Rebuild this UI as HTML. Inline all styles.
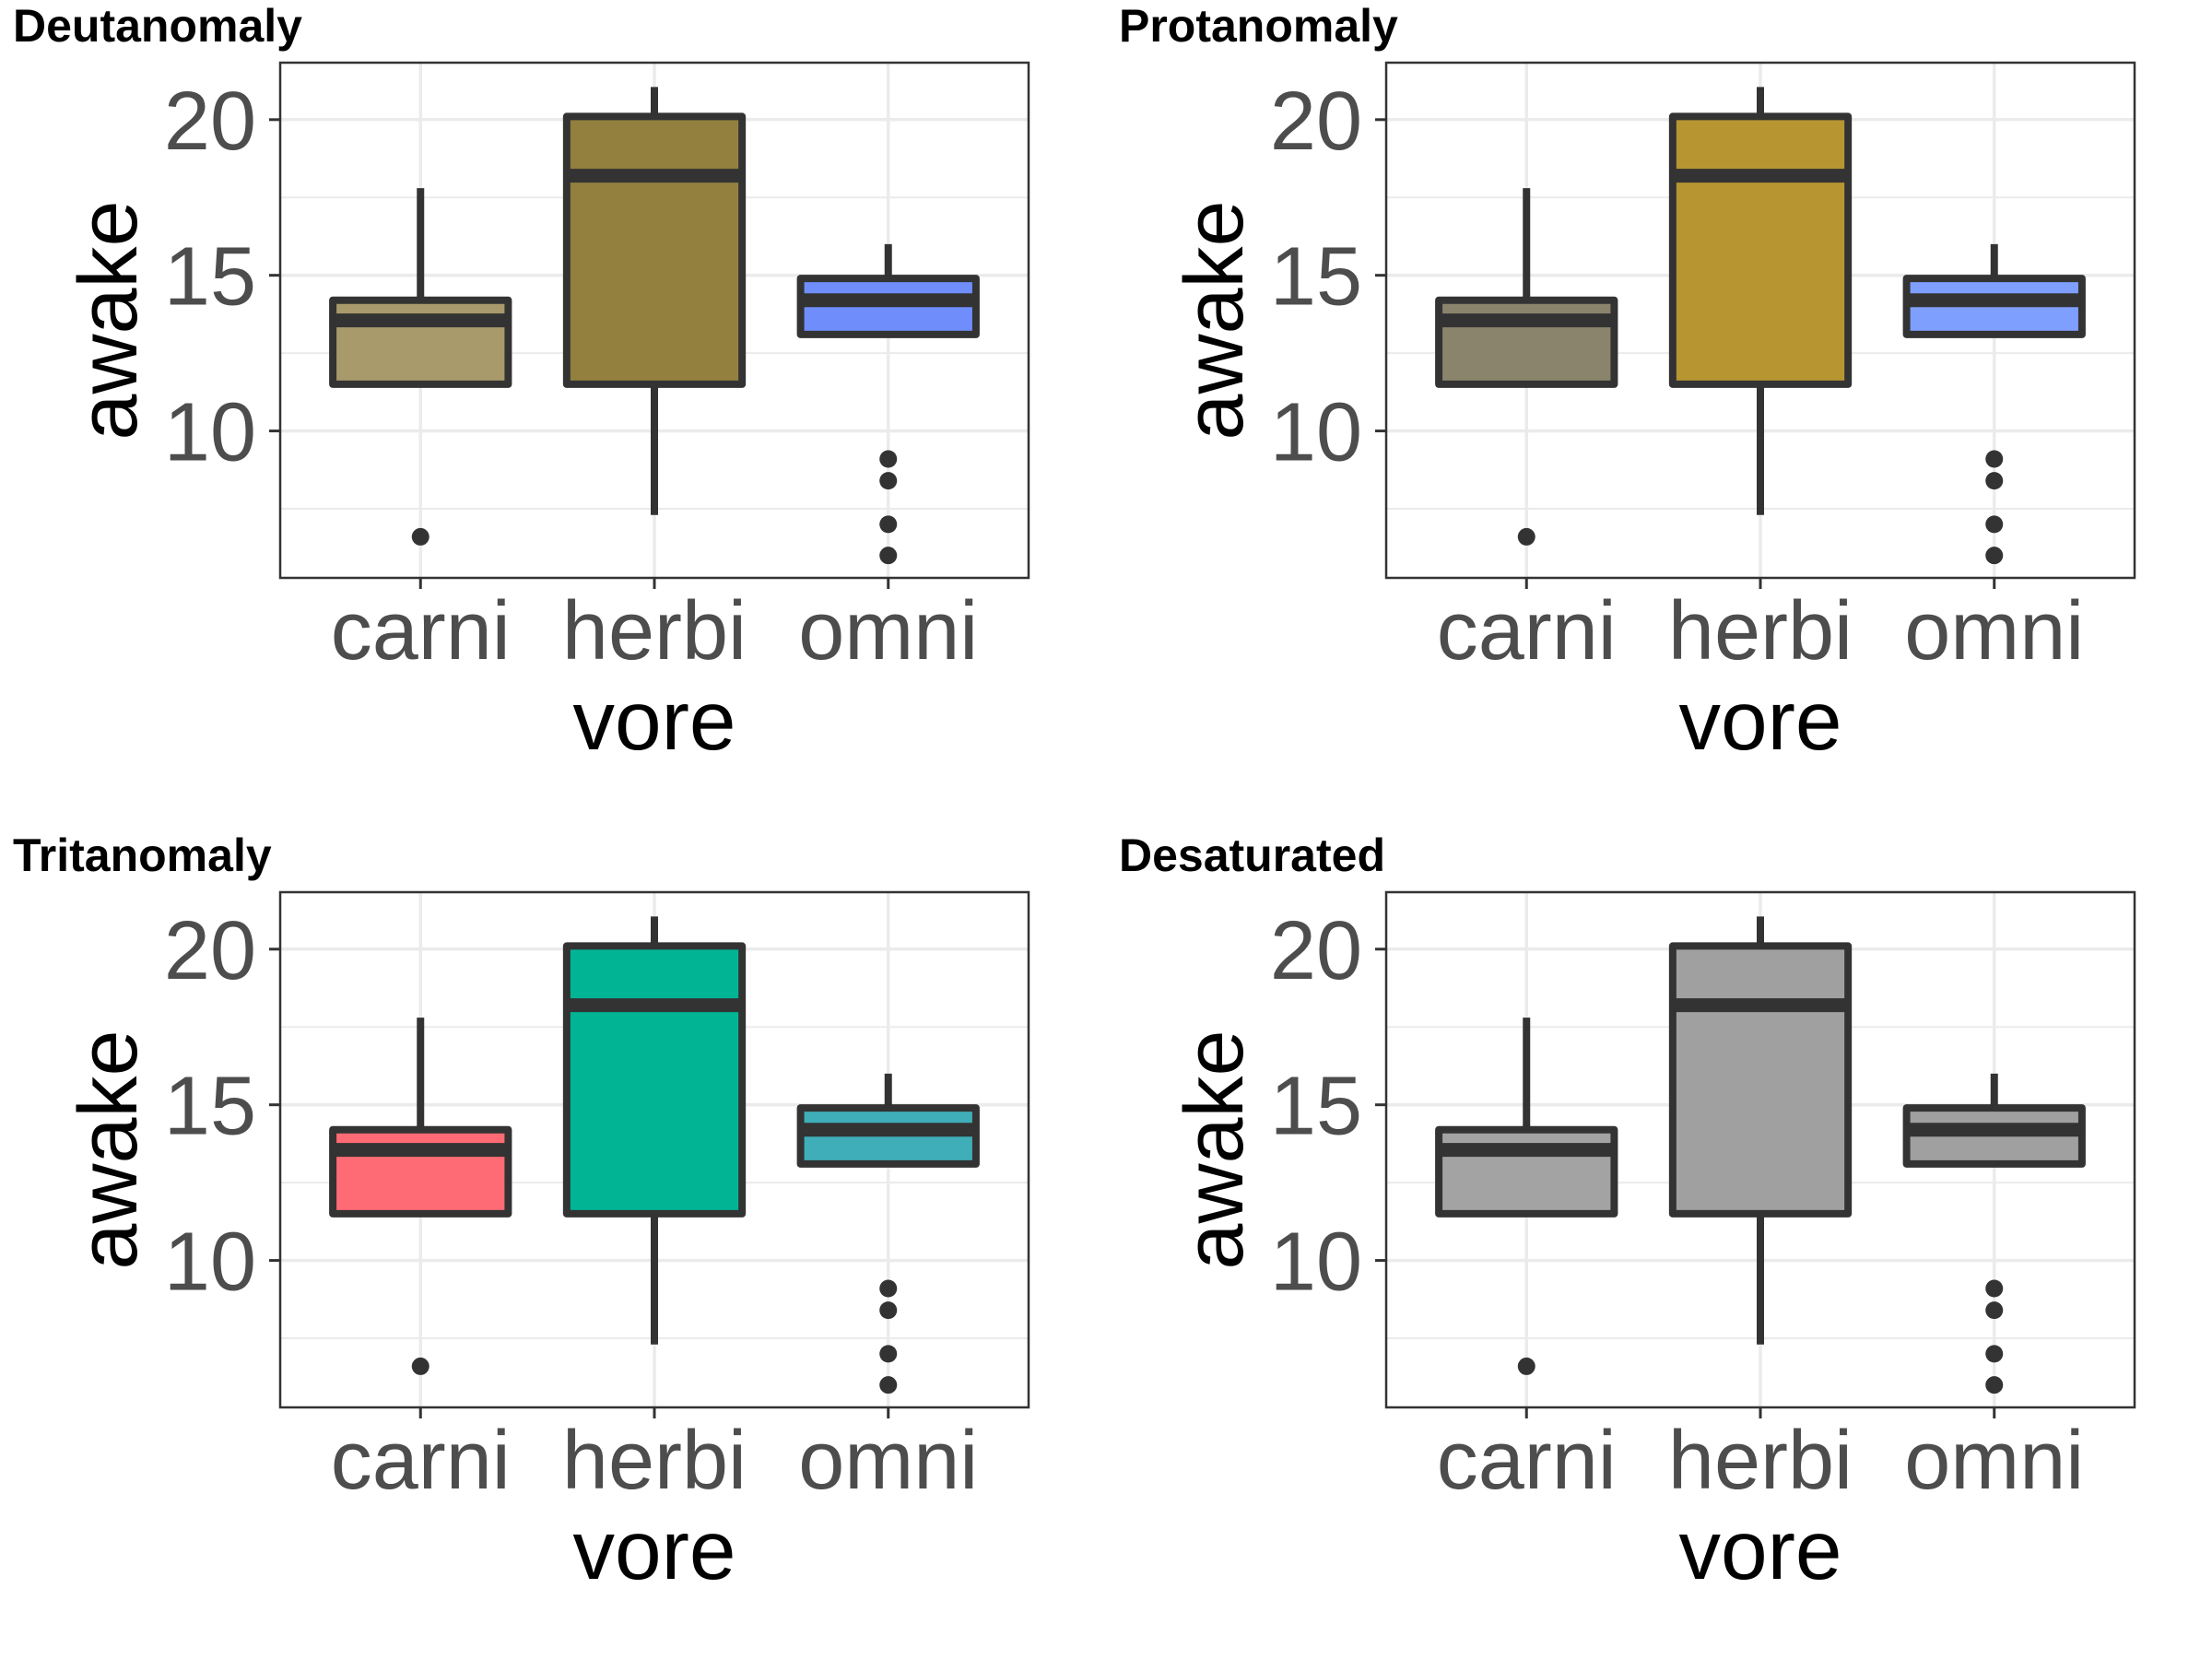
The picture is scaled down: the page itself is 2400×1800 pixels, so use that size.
<!DOCTYPE html>
<html><head><meta charset="utf-8"><style>
html,body{margin:0;padding:0;background:#fff;}
svg{display:block;font-family:"Liberation Sans",Arial,sans-serif;}
</style></head>
<body>
<svg id="chart" width="2400" height="1800" viewBox="0 0 2400 1800" xmlns="http://www.w3.org/2000/svg"></svg>
<script>
const categories = ["carni", "herbi", "omni"];
const lowerWhisker = [11.5, 7.3, 13.1];
const q1 = [11.5, 11.5, 13.1];
const medians = [13.55, 18.2, 14.2];
const q3 = [14.2, 20.1, 14.9];
const upperWhisker = [17.8, 21.05, 16.0];
const outliers = [[6.6], [], [9.1, 8.4, 7.0, 6.0]];
const yTicks = [10, 15, 20];
const yMinor = [7.5, 12.5, 17.5];
const panelTitles = ["Deutanomaly", "Protanomaly", "Tritanomaly", "Desaturated"];
const panelColors = [
  ["#a89a6b", "#93803f", "#6f8efc"],
  ["#8b846d", "#b79632", "#7f9fff"],
  ["#ff6b74", "#00b494", "#3faeb9"],
  ["#a3a3a3", "#a0a0a0", "#a0a0a0"]
];
const yDomain = [5.28, 21.83];

const NS = "http://www.w3.org/2000/svg";
const svg = document.getElementById("chart");
function mk(tag, attrs, parent) {
  const e = document.createElementNS(NS, tag);
  for (const k in attrs) e.setAttribute(k, attrs[k]);
  parent.appendChild(e);
  return e;
}
const PL = 304, PR = 1116, PT = 68, PB = 627;
function yScale(v) { return PB - (v - yDomain[0]) / (yDomain[1] - yDomain[0]) * (PB - PT); }
const step = (PR - PL) / (categories.length - 1 + 1.2);
function xScale(i) { return PL + step * (0.6 + i); }
const boxHalf = step * 0.375;

panelTitles.forEach((title, p) => {
  const ox = (p % 2) * 1200, oy = Math.floor(p / 2) * 900;
  const g = mk("g", {transform: `translate(${ox},${oy})`}, svg);
  
  
  const t = mk("text", {x: 14, y: 45, "font-size": 50, "font-weight": "bold", fill: "#000"}, g);
  t.textContent = title;
  
  
  const bg = mk("rect", {x: PL, y: PT, width: PR - PL, height: PB - PT, fill: "#fff"}, g);
  
  
  yMinor.forEach(v => {
    const l = mk("line", {x1: PL, x2: PR, y1: yScale(v), y2: yScale(v), stroke: "#ebebeb", "stroke-width": 2}, g);
    
    
  });
  yTicks.forEach(v => {
    const l = mk("line", {x1: PL, x2: PR, y1: yScale(v), y2: yScale(v), stroke: "#ebebeb", "stroke-width": 3.5}, g);
    
    
  });
  categories.forEach((c, i) => {
    const l = mk("line", {x1: xScale(i), x2: xScale(i), y1: PT, y2: PB, stroke: "#ebebeb", "stroke-width": 3.5}, g);
    
    
  });
  categories.forEach((c, i) => {
    const x = xScale(i);
    const bg2 = mk("g", {}, g);
    
    
    if (upperWhisker[i] > q3[i]) mk("line", {x1: x, x2: x, y1: yScale(q3[i]), y2: yScale(upperWhisker[i]), stroke: "#333", "stroke-width": 8}, bg2);
    if (lowerWhisker[i] < q1[i]) mk("line", {x1: x, x2: x, y1: yScale(q1[i]), y2: yScale(lowerWhisker[i]), stroke: "#333", "stroke-width": 8}, bg2);
    mk("rect", {x: x - boxHalf, y: yScale(q3[i]), width: boxHalf * 2, height: yScale(q1[i]) - yScale(q3[i]), fill: panelColors[p][i], stroke: "#333", "stroke-width": 8, "stroke-linejoin": "round"}, bg2);
    mk("line", {x1: x - boxHalf, x2: x + boxHalf, y1: yScale(medians[i]), y2: yScale(medians[i]), stroke: "#333", "stroke-width": 15}, bg2);
    outliers[i].forEach(v => {
      const d = mk("circle", {cx: x, cy: yScale(v), r: 9.5, fill: "#333"}, bg2);
      
      
    });
  });
  const border = mk("rect", {x: PL, y: PT, width: PR - PL, height: PB - PT, fill: "none", stroke: "#333", "stroke-width": 2.5}, g);
  
  
  yTicks.forEach(v => {
    mk("line", {x1: PL - 12, x2: PL, y1: yScale(v), y2: yScale(v), stroke: "#333", "stroke-width": 3}, g);
    const tl = mk("text", {x: 278, y: yScale(v) + 32, "font-size": 90, fill: "#4d4d4d", "text-anchor": "end"}, g);
    tl.textContent = v;
    
    
  });
  categories.forEach((c, i) => {
    mk("line", {x1: xScale(i), x2: xScale(i), y1: PB, y2: PB + 12, stroke: "#333", "stroke-width": 3}, g);
    const tl = mk("text", {x: xScale(i), y: 715, "font-size": 90, fill: "#4d4d4d", "text-anchor": "middle"}, g);
    tl.textContent = c;
    
    
  });
  const xt = mk("text", {x: (PL + PR) / 2, y: 813, "font-size": 91, fill: "#000", "text-anchor": "middle"}, g);
  xt.textContent = "vore";
  
  
  const yt = mk("text", {x: 0, y: 0, "font-size": 90, fill: "#000", "text-anchor": "middle", transform: `translate(148,${(PT + PB) / 2}) rotate(-90)`}, g);
  yt.textContent = "awake";
  
  
});
</script>
</body></html>
